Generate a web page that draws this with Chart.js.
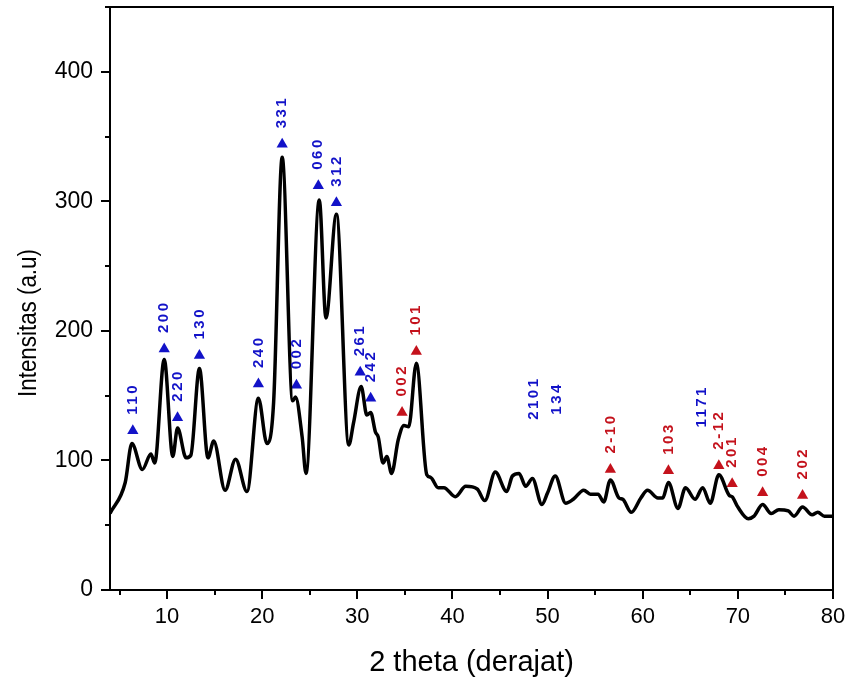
<!DOCTYPE html>
<html>
<head>
<meta charset="utf-8">
<script src="https://cdn.jsdelivr.net/npm/chart.js@4.4.1/dist/chart.umd.min.js"></script>
<style>
    html, body { margin: 0; padding: 0; background: #ffffff; }
    #xrdChart { display: block; }
</style>
</head>
<body>
<canvas id="xrdChart" width="849" height="684"></canvas>
<script>
// XRD pattern
const twoTheta = [
    4.0, 5.6, 6.3, 7.4, 8.3, 8.7, 9.7, 10.6, 11.1, 12.0, 12.5, 13.4, 14.3, 14.9,
    16.1, 17.2, 18.4, 19.6, 20.5, 21.2, 22.1, 23.2, 23.5, 24.2, 24.6, 26.0, 26.7,
    27.8, 29.1, 29.6, 30.4, 31.0, 31.4, 31.9, 32.2, 32.7, 33.1, 33.6, 34.3, 34.9,
    35.4, 36.2, 37.3, 37.7, 38.5, 39.1, 40.3, 41.4, 42.6, 43.4, 44.5, 45.7, 46.3,
    47.0, 47.7, 48.4, 49.4, 50.0, 50.8, 51.9, 52.7, 53.8, 54.5, 55.3, 55.9, 56.6,
    57.5, 57.9, 58.8, 59.8, 60.5, 61.6, 62.1, 62.7, 63.7, 64.5, 65.5, 66.3, 67.1,
    68.0, 69.1, 69.4, 70.0, 71.1, 71.7, 72.6, 73.5, 74.3, 75.3, 75.9, 76.8, 77.8,
    78.4, 79.1, 80.0
];
const intensity = [
    59, 83, 113, 93, 105, 98, 178, 103, 125, 102, 104, 171, 102, 115,
    77, 101, 76, 148, 113, 145, 334, 146, 149, 118, 90, 301, 210,
    290, 112, 129, 157, 135, 137, 122, 118, 98, 103, 90, 116, 127,
    126, 175, 89, 87, 79, 79, 72, 80, 78, 69, 91, 76, 88,
    90, 80, 86, 66, 75, 88, 67, 70, 77, 74, 74, 68, 85,
    71, 70, 60, 71, 77, 71, 71, 83, 63, 79, 70, 79, 67,
    89, 73, 72, 64, 55, 57, 66, 59, 62, 61, 57, 64, 58,
    60, 57, 57
];

// peak indexing (hkl), marker position, phase, whether a triangle is drawn
const peakLabels = ['110', '200', '220', '130', '240', '331', '002', '060', '312', '261', '242',
    '2101', '134', '1171',
    '002', '101', '2-10', '103', '2-12', '201', '004', '202'];
const peakX = [6.4, 9.7, 11.1, 13.4, 19.6, 22.1, 23.6, 25.9, 27.8, 30.3, 31.4,
    48.6, 51.0, 66.2,
    34.7, 36.2, 56.6, 62.7, 68.0, 69.4, 72.6, 76.8];
const peakY = [123, 186, 133, 181, 159, 344, 158, 312, 299, 168, 148,
    119, 123, 113,
    137, 184, 93, 92, 96, 82, 75, 73];
const peakPhase = ['A', 'A', 'A', 'A', 'A', 'A', 'A', 'A', 'A', 'A', 'A',
    'A', 'A', 'A',
    'B', 'B', 'B', 'B', 'B', 'B', 'B', 'B'];
const peakMarked = [true, true, true, true, true, true, true, true, true, true, true,
    false, false, false,
    true, true, true, true, true, true, true, true];

const PHASE_COLORS = { A: '#1212c8', B: '#c4121c' };
const FONT = '"Liberation Sans", Arial, sans-serif';

const markerIdx = peakLabels.map((_, i) => i).filter(i => peakMarked[i]);

// hkl text above each marker, rotated
const peakLabelPlugin = {
    id: 'peakLabels',
    afterDatasetsDraw(chart) {
        const { ctx, scales } = chart;
        ctx.save();
        ctx.font = 'bold 15px ' + FONT;
        ctx.letterSpacing = '2.5px';
        ctx.textAlign = 'left';
        ctx.textBaseline = 'middle';
        peakLabels.forEach((lab, i) => {
            const px = scales.x.getPixelForValue(peakX[i]);
            const py = scales.y.getPixelForValue(peakY[i]);
            ctx.save();
            ctx.translate(px, py - 16);
            ctx.rotate(-Math.PI / 2);
            ctx.fillStyle = PHASE_COLORS[peakPhase[i]];
            ctx.fillText(lab, 0, 0);
            ctx.restore();
        });
        ctx.restore();
    }
};

// frame, tick marks and y title
const framePlugin = {
    id: 'frame',
    afterDraw(chart) {
        const { ctx, chartArea: a, scales } = chart;
        ctx.save();
        ctx.strokeStyle = '#000';
        ctx.lineWidth = 2;
        ctx.strokeRect(a.left, a.top, a.right - a.left, a.bottom - a.top);

        ctx.beginPath();
        for (let v = 5; v <= 80; v += 5) {
            const px = Math.round(scales.x.getPixelForValue(v));
            const len = v % 10 === 0 ? 9 : 5;
            ctx.moveTo(px, a.bottom);
            ctx.lineTo(px, a.bottom + len);
        }
        for (let v = 0; v <= 450; v += 50) {
            const py = Math.round(scales.y.getPixelForValue(v));
            const len = v % 100 === 0 ? 9 : 5;
            ctx.moveTo(a.left, py);
            ctx.lineTo(a.left - len, py);
        }
        ctx.stroke();

        ctx.fillStyle = '#000';
        ctx.font = '26px ' + FONT;
        ctx.textAlign = 'center';
        ctx.textBaseline = 'middle';
        ctx.translate(29, 323);
        ctx.rotate(-Math.PI / 2);
        ctx.scale(0.86, 1);
        ctx.fillText('Intensitas (a.u)', 0, 0);
        ctx.restore();
    }
};

const ctx = document.getElementById('xrdChart');
const xrdChart = new Chart(ctx, {
    type: 'line',
    data: {
        datasets: [{
            label: 'XRD',
            data: twoTheta.map((x, i) => ({ x: x, y: intensity[i] })),
            borderColor: '#000000',
            borderWidth: 3.5,
            pointRadius: 0,
            fill: false,
            cubicInterpolationMode: 'monotone',
            borderJoinStyle: 'round'
        }, {
            label: 'markers',
            type: 'scatter',
            data: markerIdx.map(i => ({ x: peakX[i], y: peakY[i] })),
            pointStyle: 'triangle',
            pointRadius: 6.5,
            borderWidth: 0,
            backgroundColor: markerIdx.map(i => PHASE_COLORS[peakPhase[i]]),
            borderColor: markerIdx.map(i => PHASE_COLORS[peakPhase[i]])
        }]
    },
    options: {
        responsive: false,
        animation: false,
        layout: { padding: { top: 7, right: 16, left: 0, bottom: 0 } },
        plugins: {
            legend: { display: false },
            tooltip: { enabled: false }
        },
        scales: {
            x: {
                type: 'linear',
                min: 4,
                max: 80,
                afterFit(scale) {
                    scale.height = 94;
                    scale.paddingLeft = 0;
                    scale.paddingRight = 0;
                },
                afterBuildTicks(scale) {
                    scale.ticks = scale.ticks.filter(t => t.value % 10 === 0);
                },
                ticks: {
                    stepSize: 10,
                    color: '#000',
                    padding: 5,
                    maxRotation: 0,
                    font: { size: 22, family: FONT }
                },
                grid: { display: false, drawTicks: true, tickLength: 9 },
                border: { display: false },
                title: {
                    display: true,
                    text: '2 theta (derajat)',
                    color: '#000',
                    padding: { top: 0, bottom: 4 },
                    font: { size: 29, family: FONT }
                }
            },
            y: {
                type: 'linear',
                min: 0,
                max: 450,
                afterFit(scale) {
                    scale.width = 110;
                    scale.paddingTop = 0;
                    scale.paddingBottom = 0;
                },
                afterBuildTicks(scale) {
                    scale.ticks = scale.ticks.filter(t => t.value % 100 === 0);
                },
                ticks: {
                    stepSize: 100,
                    color: '#000',
                    padding: 8,
                    font: { size: 23, family: FONT }
                },
                grid: { display: false, drawTicks: true, tickLength: 9 },
                border: { display: false }
            }
        }
    },
    plugins: [peakLabelPlugin, framePlugin]
});
</script>
</body>
</html>
